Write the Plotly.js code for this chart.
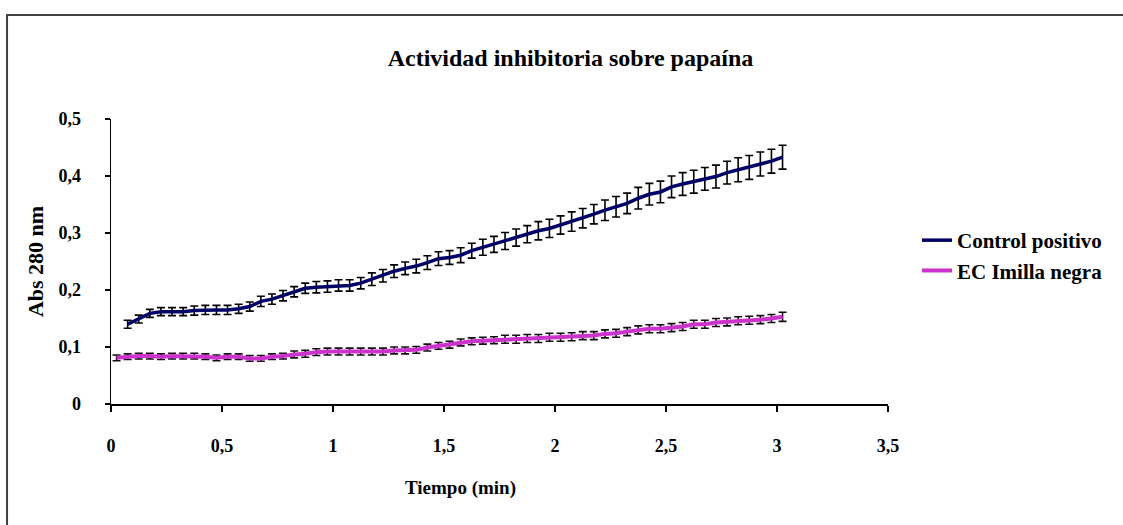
<!DOCTYPE html>
<html>
<head>
<meta charset="utf-8">
<script src="https://cdn.plot.ly/plotly-3.0.1.min.js"></script>
<style>
html,body{margin:0;padding:0;background:#fff;}
#chart{width:1123px;height:525px;}
</style>
</head>
<body>
<div id="chart"></div>
<script>
// Tiempo (min) for each reading
const tiempo = [0.025,0.075,0.125,0.175,0.225,0.275,0.325,0.375,0.425,0.475,
  0.525,0.575,0.625,0.675,0.725,0.775,0.825,0.875,0.925,0.975,
  1.025,1.075,1.125,1.175,1.225,1.275,1.325,1.375,1.425,1.475,
  1.525,1.575,1.625,1.675,1.725,1.775,1.825,1.875,1.925,1.975,
  2.025,2.075,2.125,2.175,2.225,2.275,2.325,2.375,2.425,2.475,
  2.525,2.575,2.625,2.675,2.725,2.775,2.825,2.875,2.925,2.975,3.025];

const tiempoControl = [0.075,0.125,0.175,0.225,0.275,0.325,0.375,0.425,0.475,
  0.525,0.575,0.625,0.675,0.725,0.775,0.825,0.875,0.925,0.975,
  1.025,1.075,1.125,1.175,1.225,1.275,1.325,1.375,1.425,1.475,
  1.525,1.575,1.625,1.675,1.725,1.775,1.825,1.875,1.925,1.975,
  2.025,2.075,2.125,2.175,2.225,2.275,2.325,2.375,2.425,2.475,
  2.525,2.575,2.625,2.675,2.725,2.775,2.825,2.875,2.925,2.975,3.025];

const controlPositivo = [0.140,0.149,0.159,0.162,0.162,0.162,0.164,0.165,0.165,0.165,
  0.167,0.171,0.180,0.184,0.190,0.197,0.203,0.205,0.206,0.208,
  0.208,0.212,0.219,0.225,0.233,0.238,0.242,0.248,0.255,0.257,
  0.261,0.269,0.275,0.280,0.286,0.292,0.298,0.304,0.308,0.314,
  0.320,0.326,0.333,0.340,0.346,0.352,0.361,0.368,0.372,0.381,
  0.386,0.390,0.395,0.399,0.406,0.411,0.415,0.421,0.426,0.433];

const controlError = [0.007,0.007,0.007,0.007,0.007,0.007,0.008,0.008,0.008,0.008,
  0.008,0.008,0.009,0.009,0.009,0.009,0.009,0.010,0.010,0.010,
  0.010,0.010,0.011,0.011,0.011,0.011,0.012,0.012,0.012,0.012,
  0.013,0.013,0.014,0.014,0.015,0.015,0.015,0.016,0.016,0.016,
  0.017,0.017,0.017,0.018,0.018,0.018,0.019,0.019,0.019,0.019,
  0.020,0.020,0.020,0.020,0.020,0.021,0.021,0.021,0.021,0.021];

const ecImillaNegra = [0.081,0.083,0.084,0.084,0.083,0.084,0.084,0.084,0.083,0.081,
  0.083,0.083,0.080,0.080,0.083,0.084,0.087,0.088,0.091,0.092,
  0.092,0.092,0.092,0.092,0.092,0.094,0.094,0.095,0.099,0.102,
  0.104,0.108,0.110,0.111,0.112,0.1135,0.1135,0.115,0.115,0.117,
  0.117,0.118,0.120,0.120,0.123,0.124,0.127,0.130,0.132,0.132,
  0.134,0.136,0.140,0.140,0.143,0.144,0.146,0.147,0.148,0.150,0.153];

const ecError = [0.005,0.005,0.005,0.005,0.005,0.005,0.005,0.005,0.005,0.005,
  0.005,0.005,0.005,0.005,0.005,0.005,0.006,0.006,0.006,0.006,
  0.006,0.006,0.006,0.006,0.006,0.006,0.006,0.006,0.006,0.006,
  0.006,0.006,0.006,0.006,0.006,0.007,0.007,0.007,0.007,0.007,
  0.007,0.007,0.007,0.007,0.007,0.007,0.007,0.007,0.007,0.007,
  0.007,0.007,0.007,0.007,0.007,0.007,0.007,0.007,0.007,0.007,0.008];

const serieNames = ['Control positivo', 'EC Imilla negra'];

const FONT = 'Liberation Serif, Times New Roman, serif';

const traces = [
  {
    x: tiempoControl, y: controlPositivo, name: serieNames[0],
    type: 'scatter', mode: 'lines',
    line: {color: '#000066', width: 3.5},
    error_y: {type: 'data', array: controlError, visible: true, color: '#000000', thickness: 1.6, width: 4}
  },
  {
    x: tiempo, y: ecImillaNegra, name: serieNames[1],
    type: 'scatter', mode: 'lines',
    line: {color: '#CC33CC', width: 4},
    error_y: {type: 'data', array: ecError, visible: true, color: '#1a0a1a', thickness: 1.6, width: 4}
  }
];

const layout = {
  width: 1123, height: 525,
  margin: {l: 111, r: 235, t: 119, b: 121, pad: 0},
  paper_bgcolor: '#ffffff', plot_bgcolor: '#ffffff',
  separators: ',.',
  font: {family: FONT, color: '#000000'},
  title: {
    text: 'Actividad inhibitoria sobre papaína',
    font: {family: FONT, size: 24, weight: 'bold', color: '#000000'},
    xref: 'container', x: 0.508, xanchor: 'center',
    yref: 'container', y: 0.891, yanchor: 'middle'
  },
  xaxis: {
    range: [0, 3.5], tick0: 0, dtick: 0.5,
    showgrid: false, zeroline: false,
    showline: true, linecolor: '#000000', linewidth: 1.5,
    ticks: 'outside', ticklen: 6, tickwidth: 1.5, tickcolor: '#000000',
    ticklabelstandoff: 19,
    tickfont: {family: FONT, size: 18, weight: 'bold', color: '#000000'}
  },
  yaxis: {
    range: [0, 0.5], tick0: 0, dtick: 0.1,
    showgrid: false, zeroline: false,
    showline: true, linecolor: '#000000', linewidth: 1.5,
    ticks: 'outside', ticklen: 5, tickwidth: 1.5, tickcolor: '#000000',
    ticklabelstandoff: 20,
    tickfont: {family: FONT, size: 18, weight: 'bold', color: '#000000'},
    title: {text: 'Abs 280 nm', standoff: 8, font: {family: FONT, size: 22, weight: 'bold', color: '#000000'}}
  },
  annotations: [{
    text: 'Tiempo (min)', xref: 'paper', yref: 'paper',
    x: 0.45, y: -0.295, xanchor: 'center', yanchor: 'middle', showarrow: false,
    font: {family: FONT, size: 19, weight: 'bold', color: '#000000'}
  }],
  legend: {
    x: 1.0373, xanchor: 'left', y: 0.6456, yanchor: 'top',
    bgcolor: 'rgba(0,0,0,0)', borderwidth: 0, itemwidth: 30,
    font: {family: FONT, size: 21, weight: 'bold', color: '#000000'}
  },
  showlegend: true,
  shapes: [{
    type: 'rect', xref: 'paper', yref: 'paper',
    x0: -0.1338, x1: 1.33, y0: -0.46, y1: 1.3649,
    line: {color: '#404040', width: 2}, fillcolor: 'rgba(0,0,0,0)', layer: 'below'
  }]
};

Plotly.newPlot('chart', traces, layout, {displayModeBar: false, staticPlot: true});
</script>
</body>
</html>
